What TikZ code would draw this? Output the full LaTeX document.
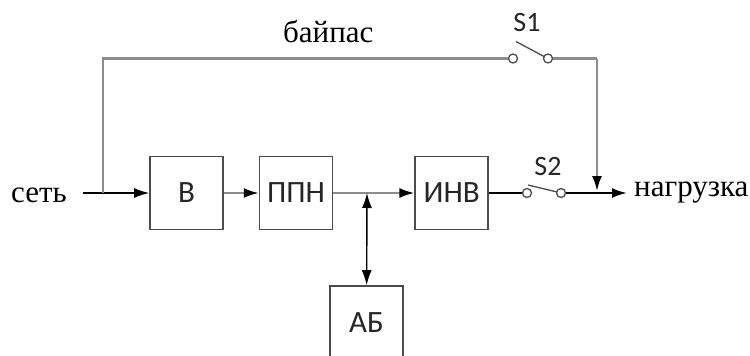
\documentclass[tikz,border=0pt]{standalone}
\usepackage{fontspec}
\setmainfont{Liberation Serif}
\newfontfamily\calfont{Carlito}
\usetikzlibrary{arrows.meta, positioning, calc}
\tikzset{
    block/.style={
        rectangle,
        draw=black!70,
        line width=1.6pt,
        fill=white,
        minimum width=73pt,
        minimum height=73pt,
        inner sep=0pt,
        align=center,
        text=black!85,
        font=\calfont\fontsize{31}{34}\selectfont
    },
    contact/.style={
        circle,
        draw=black!70,
        line width=1.3pt,
        fill=white,
        minimum size=9pt,
        inner sep=0pt
    },
    swlabel/.style={
        font=\calfont\fontsize{28}{30}\selectfont,
        text=black!85,
        inner sep=0pt
    },
    sign/.style={
        font=\fontsize{31}{34}\selectfont,
        inner sep=0pt
    },
    arrow/.style={
        -{Latex[length=15pt,width=10pt]},
        line width=1.4pt
    },
    grayarrow/.style={
        -{Latex[length=15pt,width=10pt,color=black]},
        draw=black!45,
        line width=2.2pt
    },
    grayline/.style={
        draw=black!45,
        line width=2.2pt
    },
    powerline/.style={
        draw=black,
        line width=2.2pt
    },
    lever/.style={
        draw=black!70,
        line width=1.3pt
    }
}

\begin{document}
\begin{tikzpicture}[x=1pt, y=-1pt]

    \clip (0,0) rectangle (750,356);

    % Signs
    \node[sign, anchor=base west] (net) at (11,202) {сеть};
    \node[sign, anchor=base west] (load) at (634,196) {нагрузка};
    \node[sign, anchor=base west] (bypass) at (283,42) {байпас};

    % Blocks
    \node[block] (rect) at (186.5,193) {В};
    \node[block, right=35pt of rect] (conv) {ППН};
    \node[block, right=81pt of conv] (inv) {ИНВ};
    \node[block, minimum height=74pt] (bat) at (366.5,323) {АБ};

    % Switch S1
    \node[contact] (s1a) at (513,58.5) {};
    \node[contact] (s1b) at (548,58.5) {};
    \node[swlabel] (s1) at (527,23) {S1};

    % Switch S2
    \node[contact] (s2a) at (527,193) {};
    \node[contact] (s2b) at (561,193) {};
    \node[swlabel] (s2) at (548,167) {S2};

    % Junctions
    \coordinate (in) at (83,193);
    \coordinate (split) at (103,193);
    \coordinate (bus) at (367,193);
    \coordinate (corner) at (597,58.5);
    \coordinate (merge) at (597,191);
    \coordinate (out) at (627,193);

    % Main path
    \draw[arrow] (in) -- (rect);
    \draw[grayarrow] (rect) -- (conv);
    \draw[grayarrow] (conv) -- (inv);
    \draw[arrow, {Latex[length=15pt,width=10pt]}-{Latex[length=15pt,width=10pt]}] (bat) -- (bus);
    \draw[powerline] (inv) -- (s2a);
    \draw[powerline, -{Latex[length=15pt,width=10pt]}] (s2b) -- (out);

    % Bypass
    \draw[grayline] (split) |- (s1a);
    \draw[grayline] (s1b) -- (corner);
    \draw[grayarrow] (corner) -- (merge);

    % Levers
    \draw[lever] ($(s1a)+(3,-17)$) -- ($(s1b)+(-4,-2)$);
    \draw[lever] ($(s2a)+(1,-8)$) -- ($(s2b)+(-4,-1)$);

\end{tikzpicture}
\end{document}
